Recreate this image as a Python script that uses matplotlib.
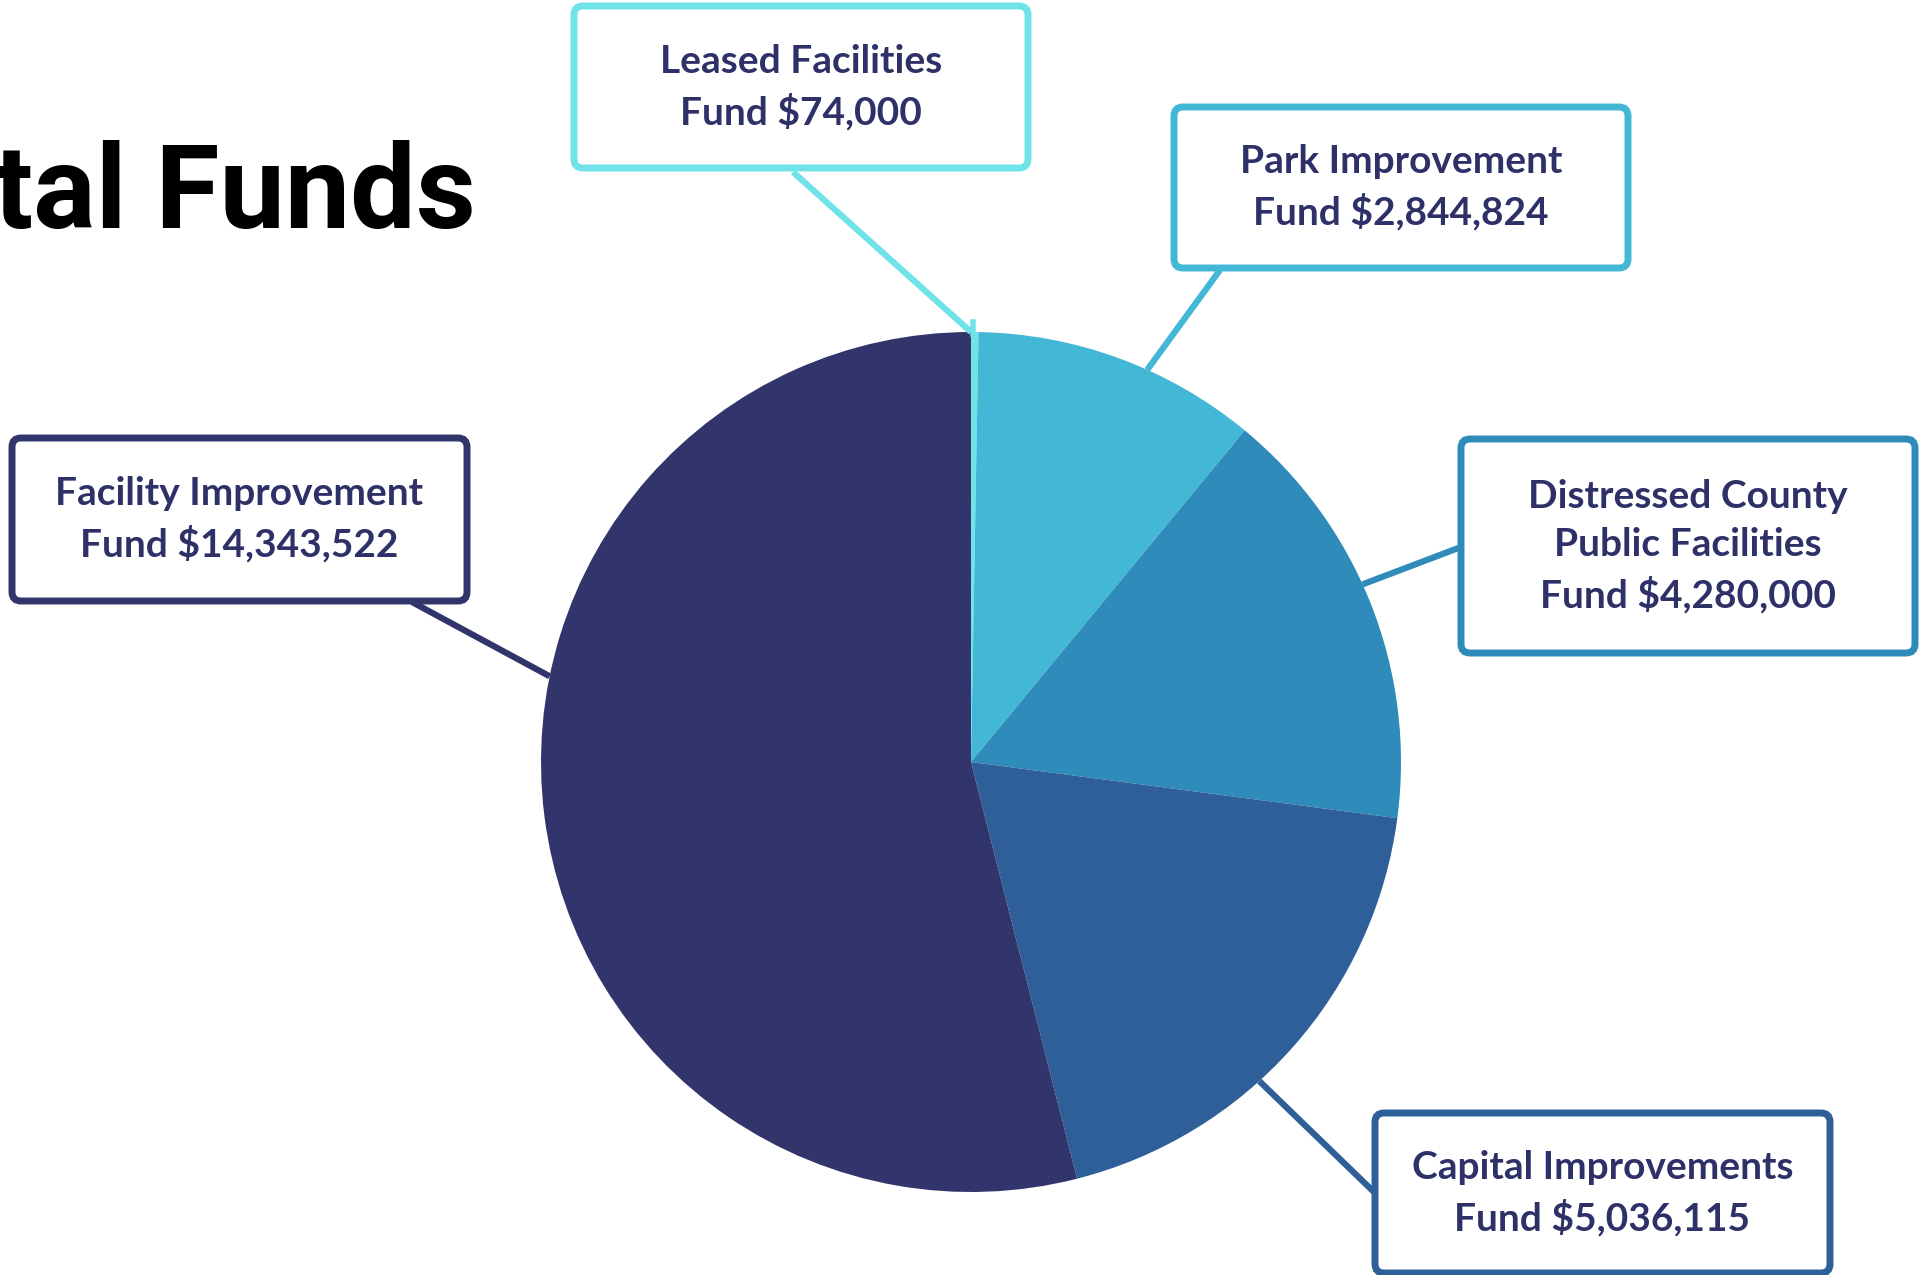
import numpy as np
import matplotlib
matplotlib.use("Agg")
import matplotlib.pyplot as plt
from matplotlib.patches import FancyBboxPatch

# ---- data ----
categories = ["Leased Facilities\nFund $74,000",
              "Park Improvement\nFund $2,844,824",
              "Distressed County\nPublic Facilities\nFund $4,280,000",
              "Capital Improvements\nFund $5,036,115",
              "Facility Improvement\nFund $14,343,522"]
values = [74000, 2844824, 4280000, 5036115, 14343522]
colors = ["#6FE3E8", "#42B7D6", "#2E8BBA", "#2E5F98", "#31356B"]
title = "Capital Funds"

# ---- layout (pixel space, y up) ----
W, H = 1928, 1275
fig = plt.figure(figsize=(W / 100, H / 100), dpi=100)
ax = fig.add_axes([0, 0, 1, 1])

cx, cy, R = 971, H - 762, 430
ax.pie(values, colors=colors, startangle=90, counterclock=False,
       center=(cx, cy), radius=R, frame=True,
       wedgeprops=dict(linewidth=0))
ax.set_xlim(0, W)
ax.set_ylim(0, H)
ax.set_aspect("equal")
ax.axis("off")

# label boxes: (x0, y0_top, x1, y1_top), anchor angle on pie, box-side attach point
boxes = [(574, 6, 1028, 168), (1174, 107, 1628, 268), (1461, 439, 1915, 653),
         (1375, 1113, 1830, 1273), (12, 438, 467, 601)]
anchor_angles = [90, 65.8, 24.4, -47.9, 168.5]
attach = [(793, 172), (1220, 270), (1461, 547), (1375, 1193), (412, 602)]
text_color = "#2E3168"

for lab, col, (x0, t0, x1, t1), ang, (axp, ayp) in zip(categories, colors, boxes, anchor_angles, attach):
    px = cx + R * np.cos(np.radians(ang))
    py = cy + R * np.sin(np.radians(ang))
    ax.plot([axp, px], [H - ayp, py], color=col, lw=4.5, zorder=1, solid_capstyle="butt")
    b = FancyBboxPatch((x0, H - t1), x1 - x0, t1 - t0,
                       boxstyle="round,pad=0,rounding_size=9",
                       facecolor="white", edgecolor=col, linewidth=5, zorder=3)
    ax.add_patch(b)
    ax.text((x0 + x1) / 2, H - (t0 + t1) / 2, lab, ha="center", va="center",
            fontsize=28, fontweight="bold", family="Lato", color=text_color,
            linespacing=1.45, zorder=4)

# small hook at top of leased slice
ax.plot([cx + 2, cx + 2], [cy + R - 2, cy + R + 10], color=colors[0], lw=4, zorder=2)

ax.text(476, H - 228, title, ha="right", va="baseline", fontsize=84,
        fontweight="bold", family="Roboto", color="black")

fig.savefig("out.png", dpi=100)
